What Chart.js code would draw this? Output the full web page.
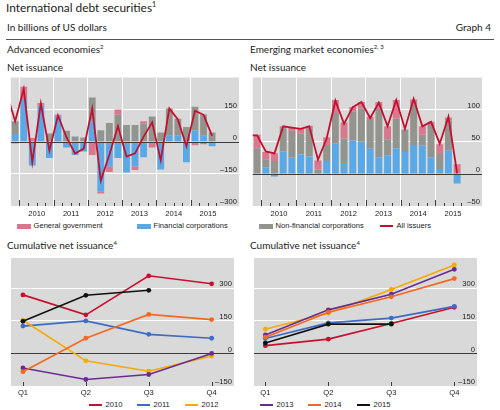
<!DOCTYPE html>
<html>
<head>
<meta charset="utf-8">
<title>International debt securities</title>
<script src="https://cdn.jsdelivr.net/npm/chart.js@4.4.1/dist/chart.umd.min.js"></script>
<style>
  body { margin: 0; width: 500px; height: 410px; position: relative; overflow: hidden; background: #fff; color: #1b1b1b; font-family: Lato, "Open Sans", sans-serif; }
  .txt { position: absolute; white-space: nowrap; line-height: 12px; font-size: 10px; }
  .txt sup { font-size: 60%; line-height: 0; vertical-align: 0; position: relative; top: -0.65em; }
  .rule { position: absolute; left: 6px; width: 488px; top: 39px; height: 1px; background: #555; }
  .box { position: absolute; }
  .leg { position: absolute; font-family: "Liberation Sans", Arial, sans-serif; font-size: 7.6px; line-height: 10px; white-space: nowrap; color: #1b1b1b; }
  .sw { position: absolute; }
</style>
</head>
<body>
<div class="txt" style="left:6px;top:1px;font-size:11.9px;line-height:14px;">International debt securities<sup>1</sup></div>
<div class="txt" style="left:7px;top:21px;">In billions of US dollars</div>
<div class="txt" style="right:9px;top:21px;">Graph 4</div>
<div class="rule"></div>
<div class="txt" style="left:7px;top:43px;">Advanced economies<sup>2</sup></div>
<div class="txt" style="left:250px;top:43px;">Emerging market economies<sup>2, 3</sup></div>
<div class="txt" style="left:7px;top:61px;">Net issuance</div>
<div class="txt" style="left:250px;top:61px;">Net issuance</div>
<div class="txt" style="left:7px;top:239px;">Cumulative net issuance<sup>4</sup></div>
<div class="txt" style="left:250px;top:239px;">Cumulative net issuance<sup>4</sup></div>

<div class="box" style="left:8px;top:75px;width:231px;height:145px;"><canvas id="advNet" width="231" height="145"></canvas></div>
<div class="box" style="left:250px;top:75px;width:232px;height:145px;"><canvas id="emNet" width="232" height="145"></canvas></div>
<div class="box" style="left:7px;top:254px;width:231px;height:144px;"><canvas id="advCum" width="231" height="144"></canvas></div>
<div class="box" style="left:250px;top:254px;width:231px;height:144px;"><canvas id="emCum" width="231" height="144"></canvas></div>
<div id="legends"></div>

<script>
// net issuance, quarterly; 2009Q3 only feeds the start of the line at the left edge
var quarters = ['2009Q3', '2009Q4',
  '2010Q1', '2010Q2', '2010Q3', '2010Q4', '2011Q1', '2011Q2', '2011Q3', '2011Q4',
  '2012Q1', '2012Q2', '2012Q3', '2012Q4', '2013Q1', '2013Q2', '2013Q3', '2013Q4',
  '2014Q1', '2014Q2', '2014Q3', '2014Q4', '2015Q1', '2015Q2', '2015Q3'];
var yearLabels = [2010, 2011, 2012, 2013, 2014, 2015];
var advNetTicks = [-300, -150, 0, 150];
var emNetTicks = [-50, 0, 50, 100];
var cumTicks = [-150, 0, 150, 300];

// advanced economies
var advGov = [null, -8, 57, 18, 13, 0, 8, 0, 0, 0, -62, -8, -27, 25, 0, -18, 12, -27, 0, 0, 0, 0, -16, -12, 0];
var advFin = [null, 36, 200, -111, 168, -76, 118, -27, -62, -45, 96, -234, -114, -76, -144, -114, -72, 0, -129, 28, 28, -96, 54, 28, -21];
var advNonFin = [null, 60, 0, 0, 0, 39, 0, 51, 25, 20, 111, 54, 88, 126, 78, 78, 84, 118, 43, 128, 80, 69, 110, 100, 43];
var advAll = [230, 96, 246, -96, 178, -42, 123, 20, -55, -32, 156, -181, -61, 73, -69, -54, 24, 91, -87, 156, 104, -21, 145, 126, 28];

// emerging market economies
var emGov = [null, 21, 12, 12, 3, 5, 7, 5, 14, 12, 20, 25, 7, 10, 5, 11, 20, 29, 0, 7, 13, 5, 15, 5, 15];
var emFin = [null, 0, 10, -4, 35, 25, 30, 27, 0, 20, 47, 17, 52, 50, 39, 26, 29, 40, 34, 45, 44, 26, 6, 36, -15];
var emNonFin = [null, 40, 12, 20, 36, 42, 33, 43, 7, 25, 48, 38, 45, 52, 45, 75, 25, 46, 35, 64, 17, 50, 25, 47, 0];
var emAll = [60, 60, 35, 32, 74, 72, 70, 74, 22, 55, 114, 78, 104, 112, 87, 111, 74, 115, 70, 117, 74, 81, 47, 89, 1];

// cumulative net issuance within each year
var cumQuarters = ['Q1', 'Q2', 'Q3', 'Q4'];
var years = ['2010', '2011', '2012', '2013', '2014', '2015'];
var advCum2010 = [270, 178, 358, 321];
var advCum2011 = [126, 150, 88, 70];
var advCum2012 = [153, -34, -82, -12];
var advCum2013 = [-67, -120, -97, 0];
var advCum2014 = [-84, 70, 180, 156];
var advCum2015 = [148, 268, 291];
var emCum2010 = [36, 66, 138, 213];
var emCum2011 = [69, 141, 163, 217];
var emCum2012 = [112, 186, 295, 408];
var emCum2013 = [85, 201, 273, 388];
var emCum2014 = [75, 190, 261, 345];
var emCum2015 = [48, 135, 135];

var PLOT_BG = '#d9d9d9';
var PINK = '#d8788e';
var BLUE = '#5aa9e6';
var GREY = '#94948f';
var RED = '#c1112f';
var ZERO = '#3c3c3c';
var NONE = 'rgba(0,0,0,0)';
var yearColours = ['#c8102e', '#3d6cc0', '#f5aa00', '#6c2b90', '#f2691f', '#111111'];
var TICK_FONT = {family: '"Liberation Sans", Arial, sans-serif', size: 7.6};

function quarterX(q) {
  return +q.slice(0, 4) + (+q.slice(5) - 0.5) / 4;
}

function signed(v) {
  return v < 0 ? '\u2013' + Math.abs(v) : String(v);
}

function fixedTicks(values) {
  return function (scale) {
    scale.ticks = values.map(function (v) { return {value: v}; });
  };
}

var plotBackground = {
  id: 'plotBackground',
  beforeDraw: function (chart) {
    var a = chart.chartArea, ctx = chart.ctx;
    ctx.save();
    ctx.fillStyle = PLOT_BG;
    ctx.fillRect(a.left, a.top, a.right - a.left, a.bottom - a.top);
    ctx.restore();
  }
};

// short marks standing on the bottom edge, inside the plot
function innerTicks(marks) {
  return {
    id: 'innerTicks',
    beforeDatasetsDraw: function (chart) {
      var x = chart.scales.x, bottom = chart.chartArea.bottom, ctx = chart.ctx;
      ctx.save();
      ctx.strokeStyle = ZERO;
      ctx.lineWidth = 1;
      marks.forEach(function (m) {
        var px = Math.round(x.getPixelForValue(m.value)) + 0.5;
        ctx.beginPath();
        ctx.moveTo(px, bottom);
        ctx.lineTo(px, bottom - m.len);
        ctx.stroke();
      });
      ctx.restore();
    }
  };
}

// zero line over the bars but under the total line
var zeroOverBars = {
  id: 'zeroOverBars',
  beforeDatasetDraw: function (chart, args) {
    if (args.index !== 0) return;
    var y = Math.round(chart.scales.y.getPixelForValue(0)) + 0.5, a = chart.chartArea, ctx = chart.ctx;
    ctx.save();
    ctx.strokeStyle = ZERO;
    ctx.lineWidth = 1;
    ctx.beginPath();
    ctx.moveTo(a.left, y);
    ctx.lineTo(a.right, y);
    ctx.stroke();
    ctx.restore();
  }
};

function issuanceChart(id, fin, nonFin, gov, all, yMin, yMax, yTicks, xMax) {
  var canvas = document.getElementById(id);
  var xMin = 2009.75;
  var halfYear = canvas.width / (xMax - xMin) / 2;
  var xs = quarters.map(quarterX);
  function pts(arr) {
    return arr.map(function (v, i) { return {x: xs[i], y: v}; });
  }
  var marks = [];
  yearLabels.forEach(function (y) {
    [0, 0.25, 0.5, 0.75].forEach(function (f) { marks.push({value: y + f, len: f === 0 ? 6 : 3}); });
  });
  var bar = {stack: 'sectors', order: 1, barPercentage: 0.8, categoryPercentage: 1, borderWidth: 0};
  return new Chart(canvas, {
    type: 'bar',
    data: {
      datasets: [
        {type: 'line', label: 'All issuers', data: pts(all), borderColor: RED, borderWidth: 1.8,
         pointRadius: 0, stack: 'total', order: 0},
        Object.assign({label: 'Financial corporations', data: pts(fin), backgroundColor: BLUE}, bar),
        Object.assign({label: 'Non-financial corporations', data: pts(nonFin), backgroundColor: GREY}, bar),
        Object.assign({label: 'General government', data: pts(gov), backgroundColor: PINK}, bar)
      ]
    },
    options: {
      responsive: false,
      animation: false,
      events: [],
      layout: {padding: 0},
      plugins: {legend: {display: false}, tooltip: {enabled: false}},
      scales: {
        x: {
          type: 'linear', min: xMin, max: xMax, offset: false,
          grid: {offset: false, drawTicks: false, color: function (c) {
            return c.tick && yearLabels.indexOf(c.tick.value) >= 0 ? '#ffffff' : NONE;
          }},
          border: {display: false},
          afterBuildTicks: fixedTicks(yearLabels),
          ticks: {autoSkip: false, maxRotation: 0, padding: 3,
                  labelOffset: halfYear, color: '#1b1b1b', font: TICK_FONT,
                  callback: function (v) { return String(v); }},
          afterFit: function (s) { s.height = 14; }
        },
        y: {
          position: 'right', stacked: true, min: yMin, max: yMax,
          grid: {drawTicks: false, color: function (c) {
            var v = c.tick.value;
            return (v === 0 || v === yMin) ? NONE : '#ffffff';
          }},
          border: {display: false},
          afterBuildTicks: fixedTicks(yTicks),
          ticks: {mirror: true, padding: -2, labelOffset: -4, color: '#1b1b1b', font: TICK_FONT,
                  callback: signed},
          afterFit: function (s) { s.width = 0; }
        }
      }
    },
    plugins: [plotBackground, innerTicks(marks), zeroOverBars]
  });
}

function cumulativeChart(id, series, xMin, xMax) {
  var qIndex = cumQuarters.map(function (q, i) { return i; });
  var marks = qIndex.map(function (i) { return {value: i, len: 4}; });
  var datasets = series.map(function (vals, i) {
    return {
      label: years[i],
      data: vals.map(function (v, j) { return {x: j, y: v}; }),
      borderColor: yearColours[i],
      backgroundColor: yearColours[i],
      pointBackgroundColor: yearColours[i],
      borderWidth: 1.6,
      pointRadius: 2.4,
      pointBorderWidth: 0,
      order: series.length - i
    };
  });
  return new Chart(document.getElementById(id), {
    type: 'line',
    data: {datasets: datasets},
    options: {
      responsive: false,
      animation: false,
      events: [],
      layout: {padding: 0},
      plugins: {legend: {display: false}, tooltip: {enabled: false}},
      scales: {
        x: {
          type: 'linear', min: xMin, max: xMax,
          grid: {display: false, drawTicks: false},
          border: {display: false},
          afterBuildTicks: fixedTicks(qIndex),
          ticks: {autoSkip: false, maxRotation: 0, padding: 2,
                  color: '#1b1b1b', font: TICK_FONT,
                  callback: function (v) { return cumQuarters[v]; }},
          afterFit: function (s) { s.height = 12; }
        },
        y: {
          position: 'right', min: -150, max: 440,
          grid: {drawTicks: false, color: function (c) {
            var v = c.tick.value;
            return v === 0 ? ZERO : (v === -150 ? NONE : '#ffffff');
          }},
          border: {display: false},
          afterBuildTicks: fixedTicks(cumTicks),
          ticks: {mirror: true, padding: -2, labelOffset: -4,
                  color: '#1b1b1b', font: TICK_FONT, callback: signed},
          afterFit: function (s) { s.width = 0; }
        }
      }
    },
    plugins: [plotBackground, innerTicks(marks)]
  });
}

issuanceChart('advNet', advFin, advNonFin, advGov, advAll, -300, 300, advNetTicks, 2016.41);
issuanceChart('emNet', emFin, emNonFin, emGov, emAll, -50, 150, emNetTicks, 2016.34);
cumulativeChart('advCum', [advCum2010, advCum2011, advCum2012, advCum2013, advCum2014, advCum2015], -0.19, 3.355);
cumulativeChart('emCum', [emCum2010, emCum2011, emCum2012, emCum2013, emCum2014, emCum2015], -0.18, 3.36);

// legends sit under the panels, shared between the left and right columns
var sectorLegend = [
  {label: 'General government', colour: PINK, kind: 'box', left: 17, mid: 226},
  {label: 'Financial corporations', colour: BLUE, kind: 'box', left: 137, mid: 226},
  {label: 'Non-financial corporations', colour: GREY, kind: 'box', left: 259, mid: 226},
  {label: 'All issuers', colour: RED, kind: 'line', left: 380, mid: 226}
];
var yearLegendLeft = [89, 137, 185, 260, 308, 357];
var yearLegend = years.map(function (y, i) {
  return {label: y, colour: yearColours[i], kind: 'line', left: yearLegendLeft[i], mid: 405};
});

var host = document.getElementById('legends');
sectorLegend.concat(yearLegend).forEach(function (item) {
  var sw = document.createElement('div');
  sw.className = 'sw';
  sw.style.background = item.colour;
  sw.style.left = item.left + 'px';
  if (item.kind === 'box') {
    sw.style.width = '14px';
    sw.style.height = '5px';
    sw.style.top = (item.mid - 2.5) + 'px';
  } else {
    sw.style.width = '13px';
    sw.style.height = '2px';
    sw.style.top = (item.mid - 1) + 'px';
  }
  host.appendChild(sw);
  var t = document.createElement('div');
  t.className = 'leg';
  t.textContent = item.label;
  t.style.left = (item.left + 16.5) + 'px';
  t.style.top = (item.mid - 5) + 'px';
  host.appendChild(t);
});
</script>
</body>
</html>
